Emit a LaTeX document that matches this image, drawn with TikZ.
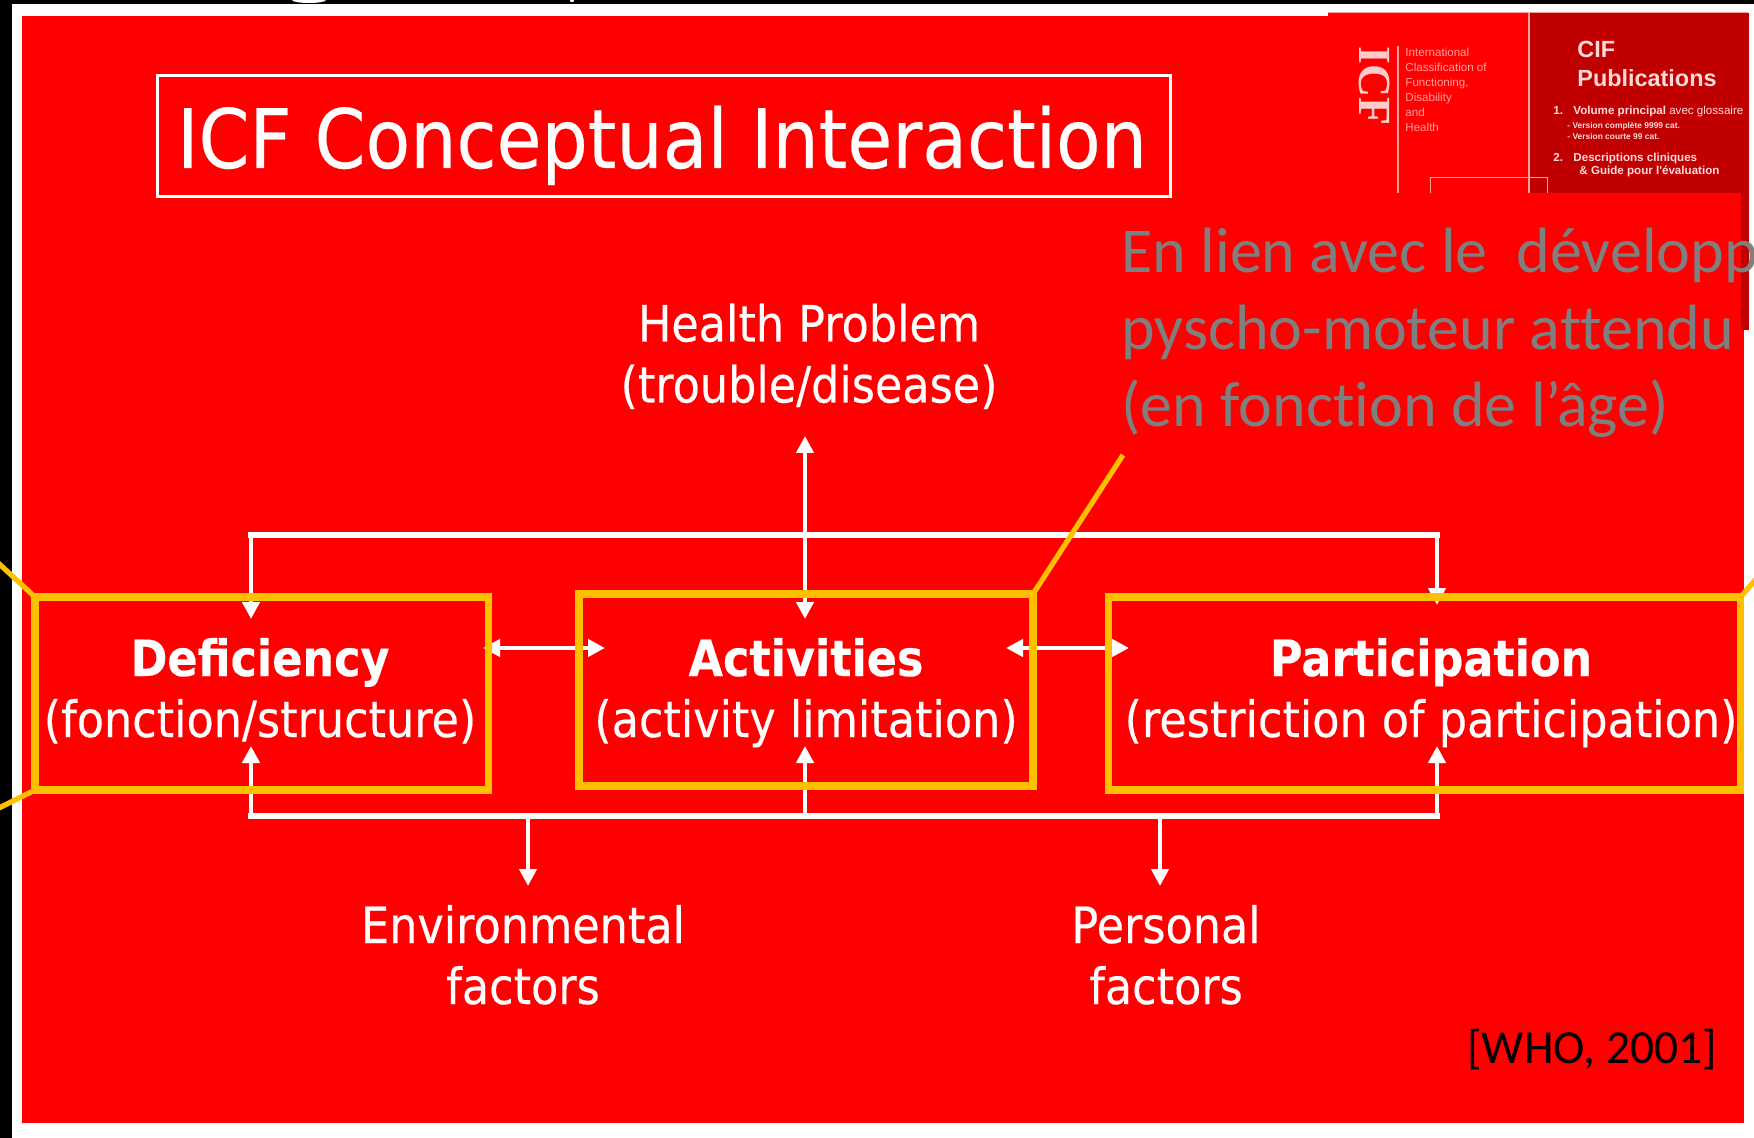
\documentclass[tikz,border=0pt]{standalone}
\usepackage{fontspec}
\usetikzlibrary{arrows.meta,calc}
\setmainfont[RawFeature={-liga;-clig;-dlig}]{Carlito}
\newfontfamily\tah[FakeStretch=0.89,FakeBold=0.3]{DejaVu Sans}
\newfontfamily\thumbf{Liberation Sans}
\newfontfamily\thumbs{Liberation Serif}
\definecolor{icfred}{HTML}{FF0000}
\definecolor{deepred}{HTML}{C00000}
\definecolor{amber}{HTML}{FFC000}
\definecolor{callgray}{HTML}{7F7F7F}
\definecolor{paletext}{HTML}{FFA0A0}
\pgfdeclarelayer{bgl}
\pgfdeclarelayer{connl}
\pgfsetlayers{bgl,connl,main}
\tikzset{
  px/.style={x=0.5pt,y=-0.5pt},
  labeltext/.style={text=white,font=\tah\fontsize{25}{30.5}\selectfont,align=center,inner sep=0pt,anchor=base},
  amberbox/.style={draw=amber,line width=3.7pt,inner sep=0pt,outer sep=0pt,anchor=north west},
  leader/.style={draw=amber,line width=2.6pt},
  flow/.style={draw=white,line width=2.3pt,-{Triangle[length=8.5pt,width=8.5pt]}},
  flowtwo/.style={draw=white,line width=2.3pt,{Triangle[length=8.5pt,width=8.5pt]}-{Triangle[length=8.5pt,width=8.5pt]}},
  rail/.style={draw=white,line width=3pt,line cap=rect},
  thumbl/.style={text=paletext,font=\thumbf\fontsize{5.8}{7}\selectfont,anchor=base west,inner sep=0pt},
  thumbr/.style={text=white!85!red,font=\thumbf\bfseries\fontsize{5}{6}\selectfont,anchor=base west,inner sep=0pt},
  callout/.style={text=callgray,font=\fontsize{32}{38.5}\selectfont,anchor=base west,inner sep=0pt},
}
\begin{document}
\begin{tikzpicture}[px]
\useasboundingbox (0,0) rectangle (1754,1138);
\clip (0,0) rectangle (1754,1138);
\begin{pgfonlayer}{bgl}
  \fill[white] (0,0) rectangle (1754,1138);
  \fill[black] (0,0) rectangle (12,1138);
  \fill[black] (0,0) rectangle (1754,4.5);
  \fill[white] (309,0) ellipse (17 and 3);
  \fill[white] (572,0) circle (2.2);
  \fill[icfred] (22,16) rectangle (1744,1123);
  \fill[deepred] (1530,13) rectangle (1749,330);
  \fill[icfred] (1328,13) rectangle (1530,193);
  \fill[icfred] (1100,193) rectangle (1741,340);
  \fill[icfred] (1100,330) rectangle (1744,400);
\end{pgfonlayer}

% thumbnail
\draw[paletext,line width=0.5pt] (1328,13) -- (1748,13);
\draw[paletext,line width=0.7pt] (1398,46) -- (1398,193);
\draw[paletext,line width=0.6pt] (1529,13) -- (1529,193);
\draw[paletext,line width=0.5pt] (1430,193) -- (1430,178) -- (1547,178) -- (1547,193);
\node[text=white!80!red,font=\thumbs\bfseries\fontsize{23}{23}\selectfont,rotate=-90,inner sep=0pt] (thicf) at (1374,86) {ICF};
\node[thumbl] (th1) at (1405,57) {International};
\node[thumbl] (th2) at (1405,72) {Classification of};
\node[thumbl] (th3) at (1405,87) {Functioning,};
\node[thumbl] (th4) at (1405,102) {Disability};
\node[thumbl] (th5) at (1405,117) {and};
\node[thumbl] (th6) at (1405,132) {Health};
\node[thumbr,font=\thumbf\bfseries\fontsize{11.7}{13}\selectfont] (cif) at (1577,58) {CIF};
\node[thumbr,font=\thumbf\bfseries\fontsize{11.7}{13}\selectfont] (pub) at (1577,87) {Publications};
\node[thumbr,font=\thumbf\bfseries\fontsize{5.8}{7}\selectfont] (n1) at (1553,115) {1.};
\node[thumbr,font=\thumbf\fontsize{5.8}{7}\selectfont] (vol) at (1573,115) {\textbf{Volume principal} avec glossaire};
\node[thumbr,font=\thumbf\bfseries\fontsize{4.2}{5}\selectfont] (v1) at (1567,129) {- Version complète 9999 cat.};
\node[thumbr,font=\thumbf\bfseries\fontsize{4.2}{5}\selectfont] (v2) at (1567,140) {- Version courte 99 cat.};
\node[thumbr,font=\thumbf\bfseries\fontsize{5.8}{7}\selectfont] (n2) at (1553,162) {2.};
\node[thumbr,font=\thumbf\bfseries\fontsize{5.8}{7}\selectfont] (d1) at (1573,162) {Descriptions cliniques};
\node[thumbr,font=\thumbf\bfseries\fontsize{5.8}{7}\selectfont] (d2) at (1579,175) {\& Guide pour l'évaluation};

% title
\node[draw=white,line width=1.5pt,inner sep=0pt,outer sep=0pt,anchor=north west,minimum width=506.5pt,minimum height=60.5pt,
      text=white,font=\tah\fontsize{41}{41}\selectfont] (title) at (157.5,76) {\kern-2pt\raisebox{-15.75pt}[0pt][0pt]{ICF Conceptual Interaction}};

% texts
\node[labeltext] (health) at (809,402.5) {Health Problem\\(trouble/disease)};
\node[labeltext] (env) at (523,1004) {Environmental\\factors};
\node[labeltext] (pers) at (1166,1004) {Personal\\factors};
\node[anchor=base west,inner sep=0pt,font=\fontsize{23.7}{24}\selectfont,text=black] (who) at (1467,1063) {[WHO, 2001]};
\node[callout] (c1) at (1121,273) {En lien avec le\ \ développ};
\node[callout] (c2) at (1121,350) {pyscho-moteur attendu};
\node[callout] (c3) at (1121,427) {(en fonction de l’âge)};

% boxes
\node[amberbox,minimum width=226.75pt,minimum height=96.5pt] (defbox) at (35,597) {};
\node[amberbox,minimum width=227pt,minimum height=96pt] (actbox) at (579,594) {};
\node[amberbox,minimum width=316pt,minimum height=96.5pt] (parbox) at (1108.5,597) {};
\node[labeltext] (deft) at (260,737) {\textbf{Deficiency}\\(fonction/structure)};
\node[labeltext] (actt) at (806,737) {\textbf{Activities}\\(activity limitation)};
\node[labeltext] (part) at (1431,737) {\textbf{Participation}\\(restriction of participation)};

% connector points
\coordinate (tl) at (251,535);
\coordinate (tr) at (1437,535);
\coordinate (bl) at (251,816);
\coordinate (br) at (1437,816);
\coordinate (bm) at (805,816);
\coordinate (benv) at (528,816);
\coordinate (bper) at (1160,816);
\coordinate (tipenv) at (528,886);
\coordinate (tipper) at (1160,886);
\coordinate (tipdeft) at (251,619);
\coordinate (tipdefb) at (251,746);
\coordinate (tipactt) at (805,619);
\coordinate (tipacth) at (805,436);
\coordinate (tipactb) at (805,746);
\coordinate (tipart) at (1437,605);
\coordinate (tiparb) at (1437,746);
\coordinate (da) at (483,648);
\coordinate (db) at (605,648);
\coordinate (dc) at (1006,648);
\coordinate (dd) at (1129,648);
\coordinate (la) at (-5,560);
\coordinate (lb) at (-5,810);
\coordinate (lc) at (1123,455);
\coordinate (ld) at (1764,570);

\begin{pgfonlayer}{connl}
  \draw[rail] (tl) -- (tr);
  \draw[rail] (bl) -- (br);
  \draw[flow] (tl) -- (tipdeft);
  \draw[flow] (tr) -- (tipart);
  \draw[flowtwo] (tipacth) -- (tipactt);
  \draw[flow] (bl) -- (tipdefb);
  \draw[flow] (bm) -- (tipactb);
  \draw[flow] (br) -- (tiparb);
  \draw[flow] (benv) -- (tipenv);
  \draw[flow] (bper) -- (tipper);
  \draw[flowtwo] (da) -- (db);
  \draw[flowtwo] (dc) -- (dd);
\end{pgfonlayer}

% leaders
\draw[leader] (defbox.north west) -- (la);
\draw[leader] (defbox.south west) -- (lb);
\draw[leader] (actbox.north east) -- (lc);
\draw[leader] (parbox.north east) -- (ld);
\end{tikzpicture}
\end{document}
